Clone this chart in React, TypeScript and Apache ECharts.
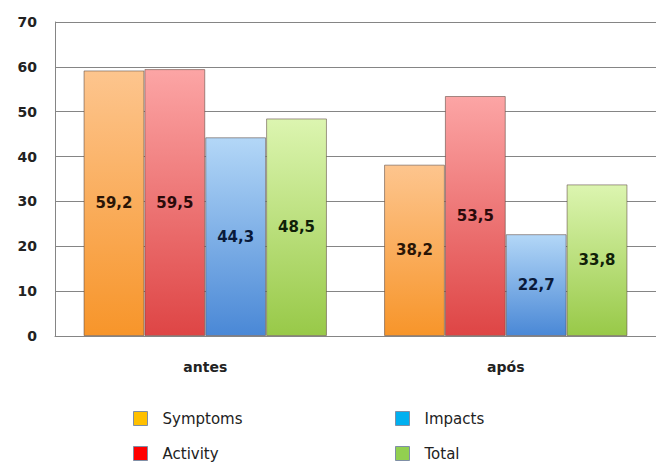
import React, { useEffect, useRef } from "react";
import * as echarts from "echarts";

const categories = ["antes", "após"];
const seriesNames = ["Symptoms", "Activity", "Impacts", "Total"];
const symptoms = [59.2, 38.2];
const activity = [59.5, 53.5];
const impacts = [44.3, 22.7];
const total = [48.5, 33.8];

// bar gradients (top, bottom) and legend swatch colours
const barTop = ["#fdc58e", "#fca5a5", "#b3d7f7", "#dcf5b0"];
const barBottom = ["#f7952a", "#de4545", "#4a88d6", "#98c948"];
const swatch = ["#ffc000", "#ff0000", "#00b0f0", "#92d050"];
const labelColor = ["#2a1506", "#2a0a0a", "#0a1a3a", "#102008"];

const fmt = (v: number) => v.toFixed(1).replace(".", ",");

export default function App() {
  const ref = useRef<HTMLDivElement>(null);
  useEffect(() => {
    if (!ref.current) return;
    const chart = echarts.init(ref.current, undefined, { renderer: "svg" });
    const values = [symptoms, activity, impacts, total];
    const font = "'DejaVu Sans', Verdana, sans-serif";
    const legendBase = {
      orient: "vertical",
      top: 411,
      padding: 0,
      itemWidth: 14,
      itemHeight: 14,
      itemGap: 20,
      icon: "rect",
      textStyle: { color: "#222", fontFamily: font, fontSize: 15, padding: [0, 0, 0, 10] },
    };
    chart.setOption({
      animation: false,
      backgroundColor: "#ffffff",
      grid: { left: 55, right: 0, top: 22, bottom: 127, containLabel: false },
      xAxis: {
        type: "category",
        data: categories,
        axisLine: { show: true, lineStyle: { color: "#858585", width: 1 } },
        axisTick: { show: false },
        axisLabel: { color: "#222", fontFamily: font, fontWeight: "bold", fontSize: 14, margin: 24 },
      },
      yAxis: {
        type: "value",
        min: 0,
        max: 70,
        interval: 10,
        axisLine: { show: true, lineStyle: { color: "#858585", width: 1 } },
        axisTick: { show: false },
        splitLine: { lineStyle: { color: "#858585", width: 1 } },
        axisLabel: { color: "#222", fontFamily: font, fontWeight: "bold", fontSize: 14, margin: 18 },
      },
      legend: [
        {
          ...legendBase,
          left: 133,
          data: [0, 1].map((i) => ({
            name: seriesNames[i],
            itemStyle: { color: swatch[i], borderColor: "#7f8fa6", borderWidth: 1 },
          })),
        },
        {
          ...legendBase,
          left: 395,
          data: [2, 3].map((i) => ({
            name: seriesNames[i],
            itemStyle: { color: swatch[i], borderColor: "#7f8fa6", borderWidth: 1 },
          })),
        },
      ],
      series: seriesNames.map((name, i) => ({
        name,
        type: "bar",
        data: values[i],
        barGap: "0%",
        barCategoryGap: "19%",
        itemStyle: {
          color: new echarts.graphic.LinearGradient(0, 0, 0, 1, [
            { offset: 0, color: barTop[i] },
            { offset: 1, color: barBottom[i] },
          ]),
          borderColor: "rgba(90,70,60,0.55)",
          borderWidth: 1,
        },
        label: {
          show: true,
          position: "inside",
          formatter: (p: any) => fmt(p.value),
          color: labelColor[i],
          fontFamily: font,
          fontWeight: "bold",
          fontSize: 15,
        },
      })),
    });
    return () => chart.dispose();
  }, []);
  return (
    <div
      ref={ref}
      style={{ position: "fixed", left: 0, top: 0, width: 656, height: 463 }}
    />
  );
}
